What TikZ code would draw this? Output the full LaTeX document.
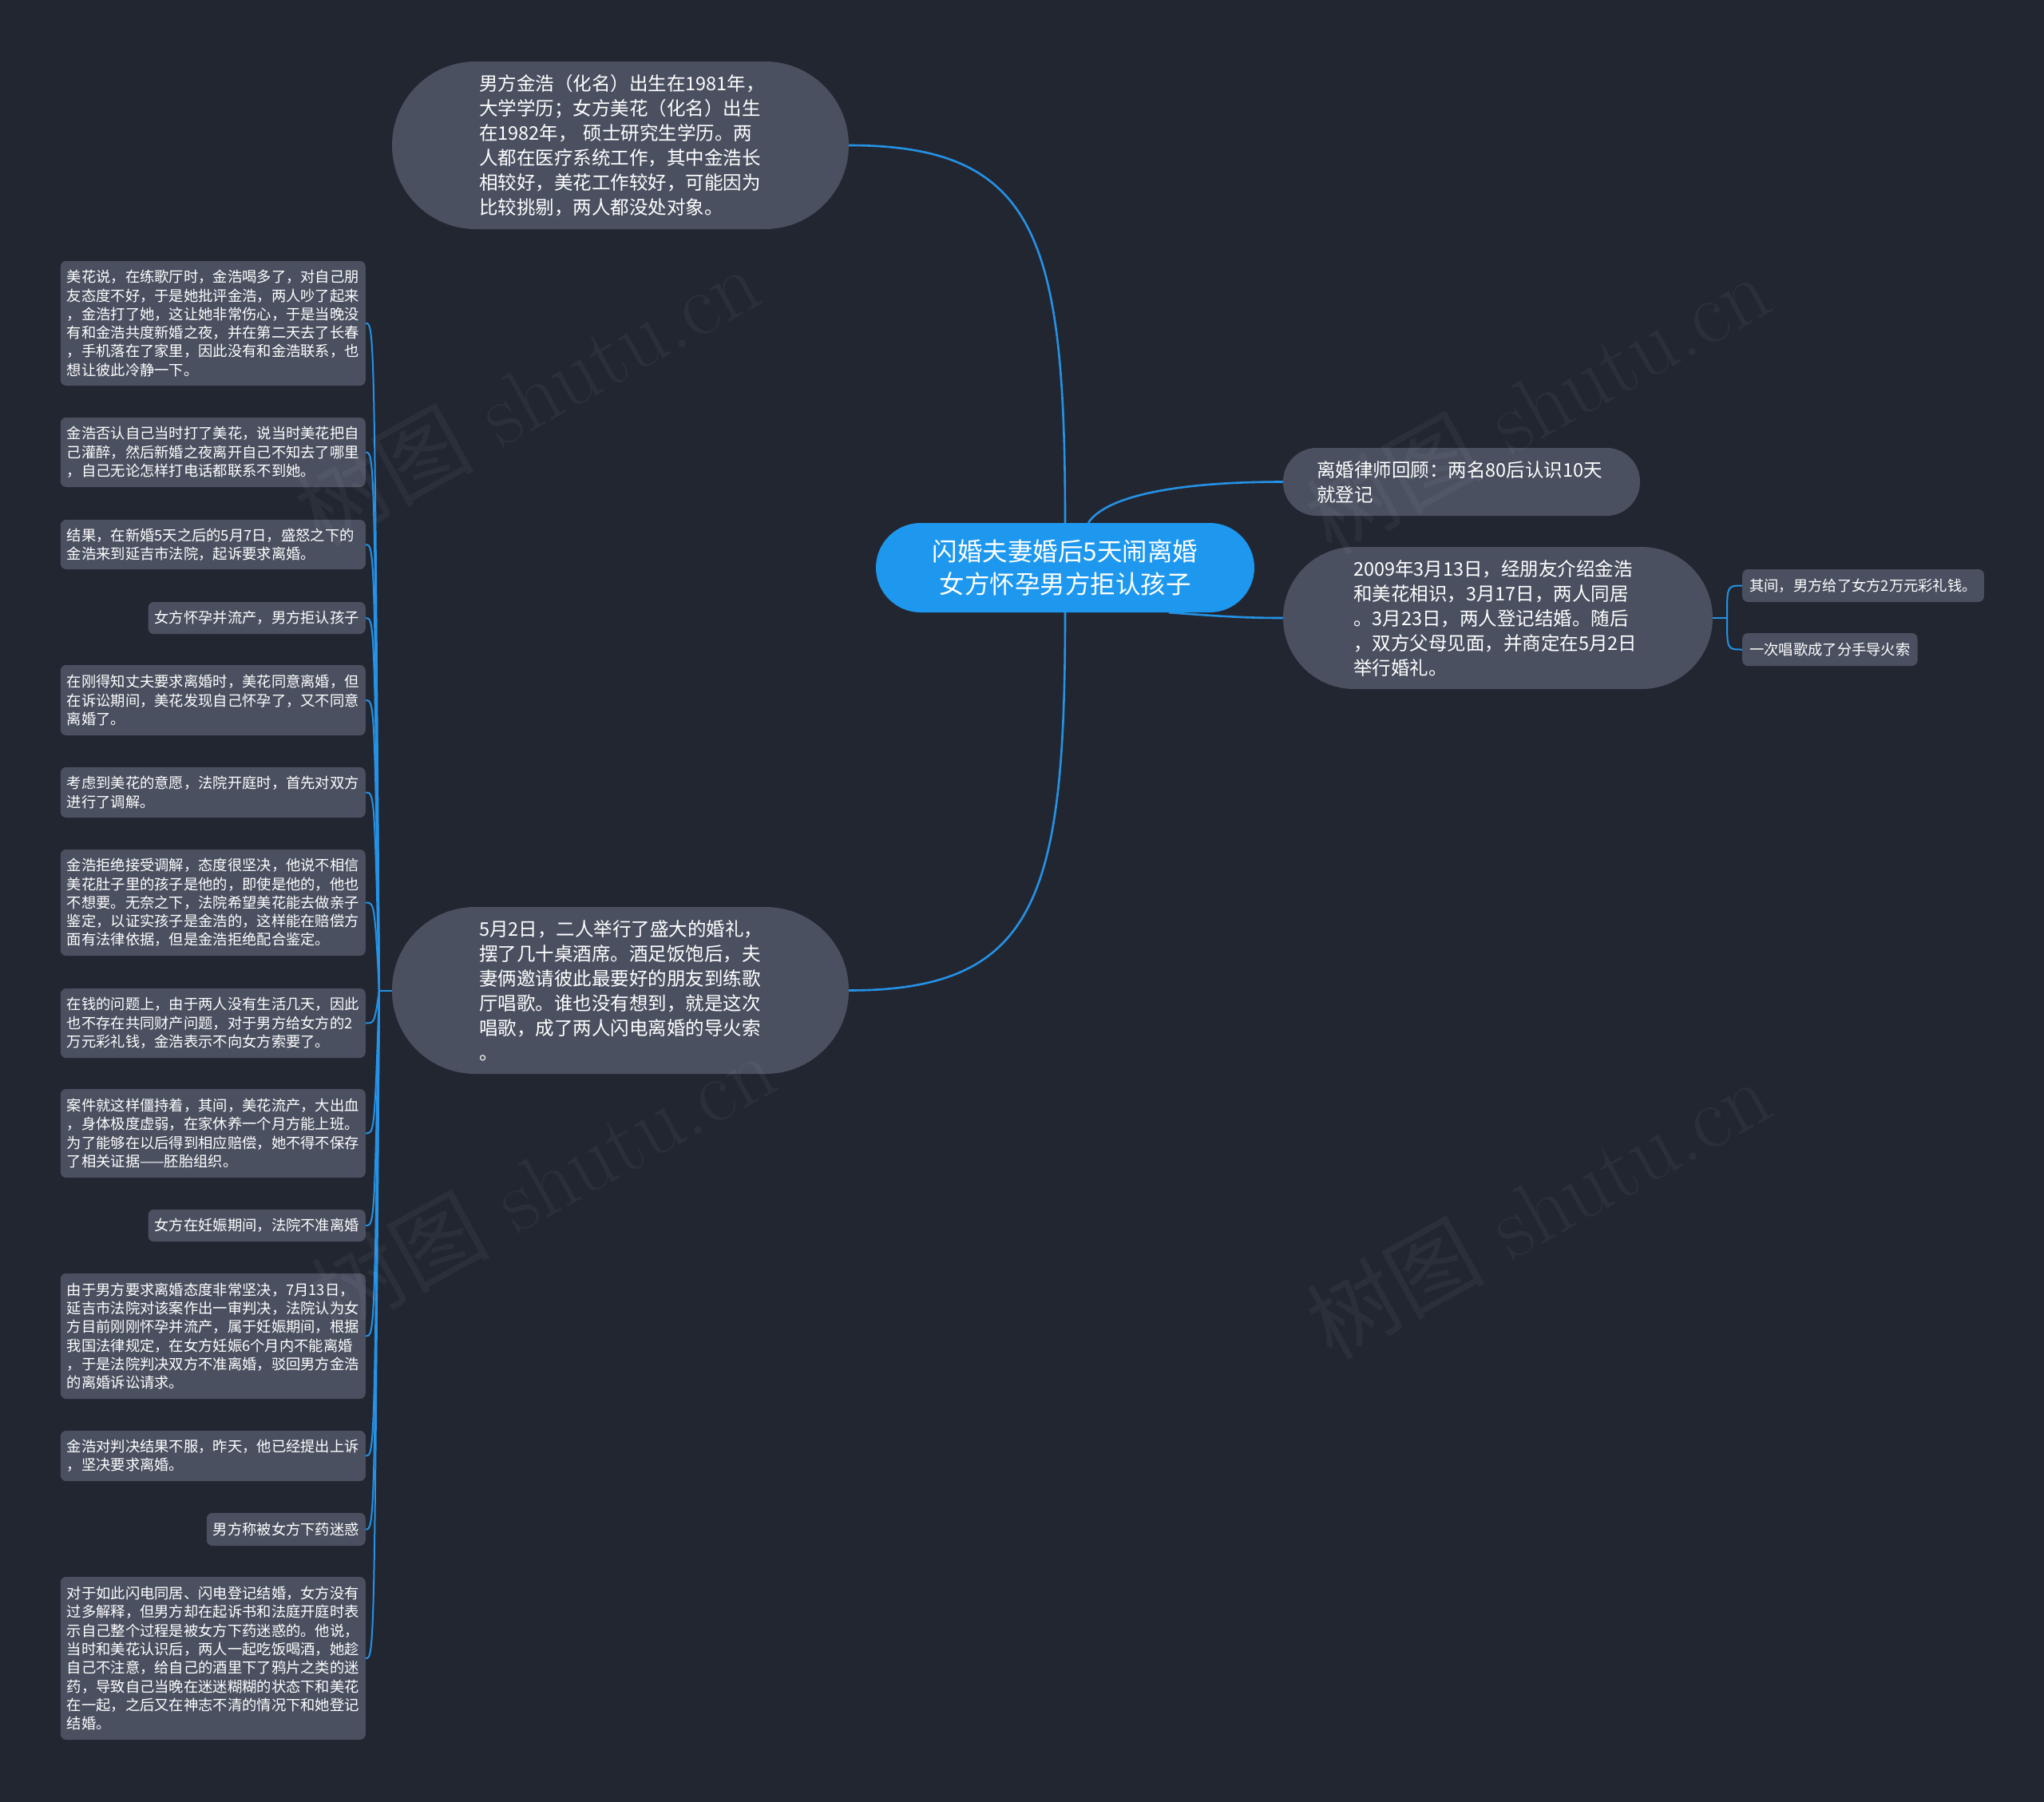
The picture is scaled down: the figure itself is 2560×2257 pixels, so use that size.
\documentclass[tikz,border=0pt]{standalone}
\usepackage{fontspec}
\newfontfamily\cjk{Noto Sans CJK SC}
\usetikzlibrary{calc}
\definecolor{bg}{RGB}{34,38,49}
\definecolor{nodegray}{RGB}{74,80,96}
\definecolor{rootblue}{RGB}{30,152,238}
\definecolor{linkblue}{RGB}{36,146,230}
\begin{document}
\begin{tikzpicture}[x=1pt,y=-1pt,
  leaf/.style={fill=nodegray, rounded corners=7pt, text=white,
    font=\cjk\fontsize{18.3}{23.3}\selectfont, align=left,
    inner xsep=8pt, inner ysep=3pt, anchor=east},
  leafw/.style={leaf, text width=366pt},
  subleaf/.style={leaf, anchor=west, inner xsep=9pt},
  branch/.style={fill=nodegray, text=white,
    font=\cjk\fontsize{23.5}{31}\selectfont, align=left, inner sep=0pt},
  rootnode/.style={fill=rootblue, text=white,
    font=\cjk\fontsize{31.5}{41.5}\selectfont, align=center, inner sep=0pt,
    minimum width=474pt, minimum height=112pt, rounded corners=56pt},
  mainlink/.style={draw=linkblue, line width=2.6pt},
  leaflink/.style={draw=linkblue, line width=2pt},
  wmark/.style={text=white, opacity=0.045, rotate=29, font=\fontsize{112}{112}\selectfont}
]
\useasboundingbox (0,0) rectangle (2560,2257);
\fill[bg] (0,0) rectangle (2560,2257);

% root
\node[rootnode] (root) at (1334,711) {闪婚夫妻婚后5天闹离婚\\女方怀孕男方拒认孩子};

% branches
\node[branch, text width=354pt, minimum width=572pt, minimum height=210pt, rounded corners=105pt] (t1) at (777,182)
 {男方金浩（化名）出生在1981年，\\大学学历；女方美花（化名）出生\\在1982年， 硕士研究生学历。两\\人都在医疗系统工作，其中金浩长\\相较好，美花工作较好，可能因为\\比较挑剔，两人都没处对象。};
\node[branch, text width=354pt, minimum width=572pt, minimum height=209pt, rounded corners=104pt] (b2) at (777,1240.5)
 {5月2日，二人举行了盛大的婚礼，\\摆了几十桌酒席。酒足饭饱后，夫\\妻俩邀请彼此最要好的朋友到练歌\\厅唱歌。谁也没有想到，就是这次\\唱歌，成了两人闪电离婚的导火索\\。};
\node[branch, text width=363pt, minimum width=447pt, minimum height=85pt, rounded corners=42pt] (r1) at (1830.5,603.5)
 {离婚律师回顾：两名80后认识10天\\就登记};
\node[branch, text width=362pt, minimum width=538pt, minimum height=178pt, rounded corners=89pt] (r2) at (1876,774)
 {2009年3月13日，经朋友介绍金浩\\和美花相识，3月17日，两人同居\\。3月23日，两人登记结婚。随后\\，双方父母见面，并商定在5月2日\\举行婚礼。};

% right sub leaves
\node[subleaf, minimum height=41pt] (s1) at (2182,733.5) {其间，男方给了女方2万元彩礼钱。};
\node[subleaf, minimum height=41pt] (s2) at (2182,813.5) {一次唱歌成了分手导火索};

% left leaves
\node[leafw, minimum height=156pt] (l1) at (458,405)
 {美花说，在练歌厅时，金浩喝多了，对自己朋\\友态度不好，于是她批评金浩，两人吵了起来\\，金浩打了她，这让她非常伤心，于是当晚没\\有和金浩共度新婚之夜，并在第二天去了长春\\，手机落在了家里，因此没有和金浩联系，也\\想让彼此冷静一下。};
\node[leafw, minimum height=87pt] (l2) at (458,566.5)
 {金浩否认自己当时打了美花，说当时美花把自\\己灌醉，然后新婚之夜离开自己不知去了哪里\\，自己无论怎样打电话都联系不到她。};
\node[leafw, minimum height=62pt] (l3) at (458,682)
 {结果，在新婚5天之后的5月7日，盛怒之下的\\金浩来到延吉市法院，起诉要求离婚。};
\node[leaf, minimum height=40pt] (l4) at (458,774) {女方怀孕并流产，男方拒认孩子};
\node[leafw, minimum height=88pt] (l5) at (458,877)
 {在刚得知丈夫要求离婚时，美花同意离婚，但\\在诉讼期间，美花发现自己怀孕了，又不同意\\离婚了。};
\node[leafw, minimum height=63pt] (l6) at (458,992.5)
 {考虑到美花的意愿，法院开庭时，首先对双方\\进行了调解。};
\node[leafw, minimum height=133pt] (l7) at (458,1130.5)
 {金浩拒绝接受调解，态度很坚决，他说不相信\\美花肚子里的孩子是他的，即使是他的，他也\\不想要。无奈之下，法院希望美花能去做亲子\\鉴定，以证实孩子是金浩的，这样能在赔偿方\\面有法律依据，但是金浩拒绝配合鉴定。};
\node[leafw, minimum height=87pt] (l8) at (458,1281.5)
 {在钱的问题上，由于两人没有生活几天，因此\\也不存在共同财产问题，对于男方给女方的2\\万元彩礼钱，金浩表示不向女方索要了。};
\node[leafw, minimum height=111pt] (l9) at (458,1419.5)
 {案件就这样僵持着，其间，美花流产，大出血\\，身体极度虚弱，在家休养一个月方能上班。\\为了能够在以后得到相应赔偿，她不得不保存\\了相关证据——胚胎组织。};
\node[leaf, minimum height=40pt] (l10) at (458,1535) {女方在妊娠期间，法院不准离婚};
\node[leafw, minimum height=157pt] (l11) at (458,1673.5)
 {由于男方要求离婚态度非常坚决，7月13日，\\延吉市法院对该案作出一审判决，法院认为女\\方目前刚刚怀孕并流产，属于妊娠期间，根据\\我国法律规定，在女方妊娠6个月内不能离婚\\，于是法院判决双方不准离婚，驳回男方金浩\\的离婚诉讼请求。};
\node[leafw, minimum height=63pt] (l12) at (458,1823.5)
 {金浩对判决结果不服，昨天，他已经提出上诉\\，坚决要求离婚。};
\node[leaf, minimum height=41pt] (l13) at (458,1915.5) {男方称被女方下药迷惑};
\node[leafw, minimum height=204pt] (l14) at (458,2077)
 {对于如此闪电同居、闪电登记结婚，女方没有\\过多解释，但男方却在起诉书和法庭开庭时表\\示自己整个过程是被女方下药迷惑的。他说，\\当时和美花认识后，两人一起吃饭喝酒，她趁\\自己不注意，给自己的酒里下了鸦片之类的迷\\药，导致自己当晚在迷迷糊糊的状态下和美花\\在一起，之后又在神志不清的情况下和她登记\\结婚。};

% main connectors
\draw[mainlink] (root.north) .. controls (1334,300) and (1300,182) .. (t1.east);
\draw[mainlink] (root.south) .. controls (1334,1122) and (1300,1240.5) .. (b2.east);
\draw[mainlink] ([xshift=29pt]root.north) .. controls (1385,622) and (1470,603.5) .. (r1.west);
\draw[mainlink] ([xshift=130pt]root.south) .. controls (1530,772) and (1560,774) .. (r2.west);

% right sub connectors
\coordinate (hubR) at (2163,774);
\draw[leaflink] (r2.east) -- (hubR);
\foreach \n in {s1,s2}{
  \draw[leaflink] (hubR) .. controls (hubR |- \n.west) .. (\n.west);
}

% left leaf connectors
\coordinate (hubL) at (475,1240.5);
\draw[leaflink] (b2.west) -- (hubL);
\foreach \n in {l1,l2,l3,l4,l5,l6,l7,l8,l9,l10,l11,l12,l13,l14}{
  \draw[leaflink] (hubL) .. controls ($(hubL |- \n.east)+(-6,0)$) .. (\n.east);
}

% watermarks
\node[wmark] (w1) at (660,495) {{\cjk 树图} shutu.cn};
\node[wmark] (w2) at (1925,505) {{\cjk 树图} shutu.cn};
\node[wmark] (w3) at (680,1480) {{\cjk 树图} shutu.cn};
\node[wmark] (w4) at (1926,1513) {{\cjk 树图} shutu.cn};
\end{tikzpicture}
\end{document}
